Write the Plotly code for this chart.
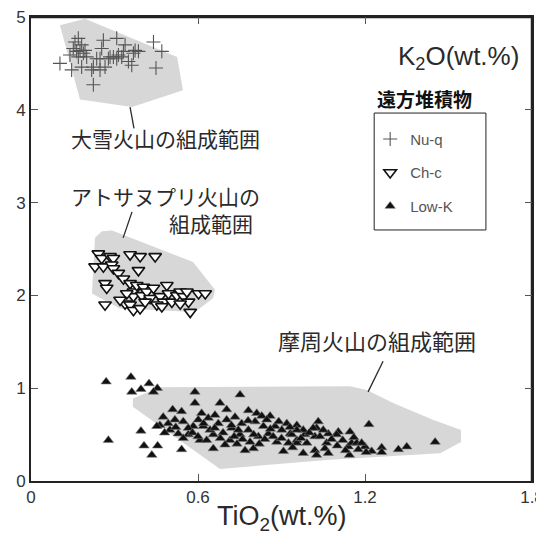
import plotly.graph_objects as go

# ---- data (TiO2 wt.%, K2O wt.%) ----
nuq_x = [0.104, 0.146, 0.158, 0.170, 0.152, 0.164, 0.176, 0.170, 0.182, 0.188, 0.194, 0.182,
         0.224, 0.218, 0.224, 0.236, 0.248, 0.260, 0.254, 0.266, 0.284, 0.296, 0.308, 0.314,
         0.326, 0.332, 0.338, 0.350, 0.362, 0.374, 0.386, 0.368, 0.440, 0.470, 0.449, 0.140,
         0.200, 0.248, 0.308, 0.278]
nuq_y = [4.50, 4.43, 4.73, 4.77, 4.66, 4.63, 4.64, 4.57, 4.70, 4.61, 4.64, 4.46,
         4.46, 4.43, 4.27, 4.55, 4.43, 4.75, 4.66, 4.46, 4.57, 4.57, 4.77, 4.59,
         4.57, 4.63, 4.70, 4.52, 4.48, 4.64, 4.63, 4.61, 4.73, 4.63, 4.45, 4.59,
         4.57, 4.55, 4.55, 4.55]

chc_x = [0.242, 0.254, 0.284, 0.296, 0.230, 0.260, 0.290, 0.296, 0.314, 0.332, 0.356, 0.392,
         0.446, 0.386, 0.266, 0.272, 0.356, 0.368, 0.368, 0.380, 0.404, 0.398, 0.416, 0.428,
         0.440, 0.464, 0.476, 0.488, 0.494, 0.506, 0.524, 0.536, 0.548, 0.566, 0.572, 0.602,
         0.626, 0.266, 0.338, 0.356, 0.368, 0.392, 0.410, 0.452, 0.470, 0.344, 0.320, 0.536,
         0.560]
chc_y = [2.45, 2.40, 2.42, 2.40, 2.31, 2.31, 2.33, 2.29, 2.24, 2.18, 2.44, 2.42,
         2.42, 2.27, 2.13, 2.08, 2.13, 2.04, 1.99, 2.11, 2.09, 2.00, 2.04, 1.97,
         2.08, 1.99, 1.93, 2.11, 2.02, 1.93, 2.00, 2.04, 1.99, 1.93, 1.82, 2.02,
         2.02, 1.90, 1.91, 1.90, 1.84, 1.86, 1.93, 1.90, 1.88, 2.02, 1.95, 1.91,
         2.04]

lowk_x = [0.270, 0.359, 0.362, 0.395, 0.424, 0.454, 0.440, 0.589, 0.589, 0.751, 0.278, 0.395,
          0.406, 0.455, 0.434, 0.541, 0.655,
          1.452, 1.350, 1.320, 1.260, 1.260, 1.214, 1.224, 1.200, 1.204, 1.146, 1.144, 1.140,
          1.152, 1.170, 1.188, 1.176, 1.104, 1.098, 1.068, 1.062, 1.056, 1.068, 1.032, 1.026,
          1.014, 1.020, 1.038, 0.984, 0.978, 0.955, 0.955, 0.991, 1.020, 0.978, 1.026, 0.931,
          0.679, 0.703, 0.781, 0.811, 0.829, 0.859, 0.919, 0.509, 0.541, 0.475, 0.463, 0.493,
          0.517, 0.547, 0.499, 0.529, 0.565, 0.613, 0.637, 0.661, 0.619, 0.583, 0.607, 0.631,
          0.655, 0.673, 0.703, 0.721, 0.715, 0.733, 0.751, 0.757, 0.781, 0.787, 0.805, 0.817,
          0.769, 0.799, 0.835, 0.853, 0.877, 0.901, 0.883, 0.907, 0.937, 0.955, 0.925, 0.697,
          0.745, 0.643, 0.565, 0.601, 0.547, 0.847, 0.955, 0.452,
          0.48, 0.52, 0.58, 0.62, 0.66, 0.69, 0.73, 0.76, 0.80, 0.84, 0.87, 0.89, 0.93, 0.97,
          1.00, 1.08, 1.12, 1.16, 0.60, 0.68, 0.72, 0.78, 0.86, 0.90, 1.05, 1.10, 1.13, 0.82,
          0.94, 0.74]
lowk_y = [1.07, 1.12, 0.96, 0.99, 1.05, 1.00, 0.96, 0.96, 0.84, 0.93, 0.44, 0.54,
          0.38, 0.38, 0.28, 0.34, 0.35,
          0.42, 0.37, 0.34, 0.36, 0.31, 0.61, 0.32, 0.37, 0.31, 0.53, 0.28, 0.37,
          0.41, 0.41, 0.41, 0.34, 0.53, 0.50, 0.51, 0.41, 0.35, 0.30, 0.64, 0.57,
          0.57, 0.48, 0.48, 0.50, 0.55, 0.60, 0.44, 0.41, 0.33, 0.30, 0.28, 0.51,
          0.84, 0.77, 0.76, 0.73, 0.70, 0.70, 0.62, 0.77, 0.75, 0.69, 0.60, 0.62,
          0.66, 0.64, 0.55, 0.51, 0.50, 0.73, 0.68, 0.71, 0.59, 0.59, 0.44, 0.44,
          0.50, 0.62, 0.66, 0.57, 0.44, 0.69, 0.50, 0.62, 0.55, 0.42, 0.64, 0.48,
          0.33, 0.35, 0.59, 0.51, 0.59, 0.55, 0.42, 0.32, 0.50, 0.41, 0.41, 0.39,
          0.55, 0.55, 0.57, 0.66, 0.46, 0.66, 0.55, 0.59,
          0.52, 0.58, 0.52, 0.62, 0.57, 0.52, 0.48, 0.45, 0.50, 0.45, 0.48, 0.64, 0.58, 0.46,
          0.52, 0.45, 0.44, 0.47, 0.48, 0.46, 0.60, 0.65, 0.56, 0.46, 0.55, 0.38, 0.33, 0.40,
          0.36, 0.40]

# composition field outlines
daisetsu_x = [0.104, 0.194, 0.525, 0.546, 0.363, 0.176]
daisetsu_y = [4.91, 4.98, 4.57, 4.21, 4.03, 4.11]
atosa_x = [0.230, 0.255, 0.291, 0.582, 0.661, 0.654, 0.589, 0.320, 0.219]
atosa_y = [2.62, 2.69, 2.70, 2.36, 2.06, 1.97, 1.82, 1.86, 2.02]
mashu_x = [0.366, 0.463, 1.146, 1.207, 1.301, 1.444, 1.545, 1.545, 1.470, 1.074, 0.679, 0.366]
mashu_y = [0.89, 1.01, 1.02, 0.98, 0.84, 0.66, 0.55, 0.42, 0.30, 0.23, 0.13, 0.80]

# leader lines
lead_daisetsu_x = [0.356, 0.370]
lead_daisetsu_y = [4.03, 3.80]
lead_atosa_x = [0.331, 0.363]
lead_atosa_y = [2.62, 2.90]
lead_mashu_x = [1.211, 1.265]
lead_mashu_y = [0.96, 1.29]

x_range = [0, 1.8]
y_range = [0, 5]
x_ticks = [0, 0.6, 1.2, 1.8]
x_ticklabels = ["0", "0.6", "1.2", "1.8"]
y_ticks = [0, 1, 2, 3, 4, 5]

FIELD = "#d7d7d7"
TXT = "#2a2a2a"
JP = "Noto Sans CJK JP"
LAT = "Liberation Sans, Arial, sans-serif"
PAD = "\u00a0" * 5

fig = go.Figure()
for px, py in [(daisetsu_x, daisetsu_y), (atosa_x, atosa_y), (mashu_x, mashu_y)]:
    fig.add_trace(go.Scatter(x=px + [px[0]], y=py + [py[0]], mode="lines", fill="toself",
                             fillcolor=FIELD, line=dict(width=0, color=FIELD),
                             showlegend=False, hoverinfo="skip"))
for lx, ly in [(lead_daisetsu_x, lead_daisetsu_y), (lead_atosa_x, lead_atosa_y),
               (lead_mashu_x, lead_mashu_y)]:
    fig.add_trace(go.Scatter(x=lx, y=ly, mode="lines", line=dict(color=TXT, width=1.3),
                             showlegend=False, hoverinfo="skip"))

fig.add_trace(go.Scatter(x=nuq_x, y=nuq_y, mode="markers", name="Nu-q", legendgroup="a",
                         marker=dict(symbol="cross-thin", size=10,
                                     line=dict(width=1.1, color="#555555"))))
fig.add_trace(go.Scatter(x=chc_x, y=chc_y, mode="markers", name="Ch-c", legendgroup="b",
                         marker=dict(symbol="triangle-down", size=11, color="white",
                                     line=dict(width=1.6, color="#111111"))))
fig.add_trace(go.Scatter(x=lowk_x, y=lowk_y, mode="markers", name="Low-K" + PAD,
                         legendgroup="c",
                         marker=dict(symbol="triangle-up", size=9, color="#111111",
                                     line=dict(width=0.6, color="#777777"))))

# top and right edges of the frame, along the axis range limits
fig.add_trace(go.Scatter(x=[x_range[0], x_range[1], x_range[1]],
                         y=[y_range[1], y_range[1], y_range[0]],
                         mode="lines", line=dict(color="#222222", width=2.5),
                         cliponaxis=False, showlegend=False, hoverinfo="skip"))

axis_common = dict(showline=True, linecolor="#222222", linewidth=2, mirror="ticks",
                   ticks="inside", ticklen=7, tickcolor="#555555", tickwidth=1,
                   showgrid=False, zeroline=False, automargin=False,
                   ticklabeloverflow="allow",
                   tickfont=dict(family=LAT, size=17, color="#333333"))

# the page body adds an 8 px offset; figure shrunk by 8 px and margins set so the
# plot area sits at x 31..532, y 17..481 in the window
fig.update_layout(
    width=536, height=528,
    margin=dict(l=23, r=12, t=9, b=55, autoexpand=False),
    plot_bgcolor="white", paper_bgcolor="white",
    xaxis=dict(range=x_range, tickvals=x_ticks, ticktext=x_ticklabels, **axis_common),
    yaxis=dict(range=y_range, tickvals=y_ticks, **axis_common),
    legend=dict(x=0.677, y=0.772, xanchor="left", yanchor="top",
                borderwidth=0, bgcolor="rgba(0,0,0,0)",
                font=dict(family=LAT, size=15, color="#555555"),
                traceorder="grouped", tracegroupgap=11),
    showlegend=True,
    shapes=[
        dict(type="rect", xref="paper", yref="paper", x0=0.685, x1=0.908, y0=0.541, y1=0.793,
             line=dict(color="#222222", width=1), fillcolor="white", layer="below"),
    ],
    annotations=[
        dict(text="TiO<sub>2</sub>(wt.%)", xref="paper", yref="paper", x=0.5, y=-0.08,
             xanchor="center", yanchor="middle", showarrow=False,
             font=dict(family=LAT, size=27, color=TXT)),
        dict(text="K<sub>2</sub>O(wt.%)", xref="paper", yref="paper", x=0.854, y=0.912,
             xanchor="center", yanchor="middle", showarrow=False,
             font=dict(family=LAT, size=26, color=TXT)),
        dict(text="<b>遠方堆積物</b>", xref="paper", yref="paper", x=0.786, y=0.825,
             xanchor="center", yanchor="middle", showarrow=False,
             font=dict(family=JP, size=19, color="#111111")),
        dict(text="大雪火山の組成範囲", x=0.485, y=3.70, showarrow=False,
             xanchor="center", yanchor="middle",
             font=dict(family=JP, size=21, color=TXT)),
        dict(text="アトサヌプリ火山の<br>\u3000\u3000\u3000\u3000\u00a0\u00a0\u00a0組成範囲",
             x=0.485, y=2.93, showarrow=False,
             xanchor="center", yanchor="middle", align="left",
             font=dict(family=JP, size=21, color=TXT)),
        dict(text="摩周火山の組成範囲", x=1.243, y=1.52, showarrow=False,
             xanchor="center", yanchor="middle",
             font=dict(family=JP, size=22, color=TXT)),
    ],
)

fig.write_html("out.html")
